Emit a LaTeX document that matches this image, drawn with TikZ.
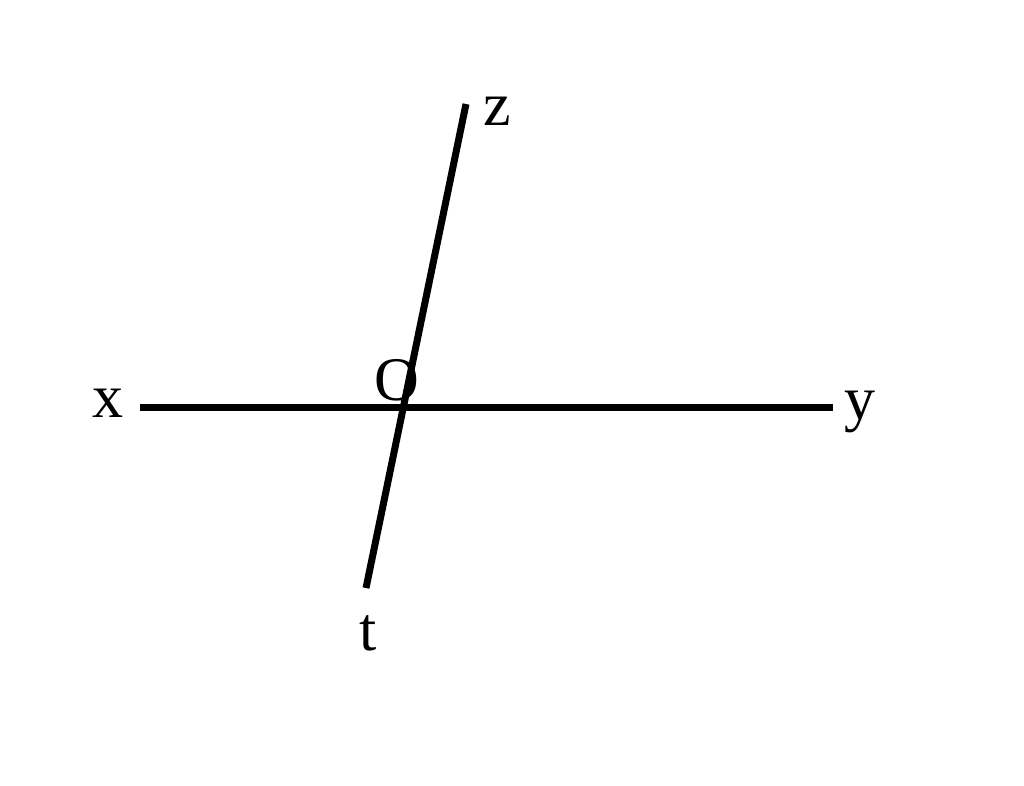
\documentclass[tikz,border=0pt]{standalone}
\usepackage{fontspec}
\setmainfont{Liberation Serif}
\begin{document}
\begin{tikzpicture}[x=1pt,y=-1pt,
  ln/.style={line width=7pt},
  lbl/.style={inner sep=0pt,font=\fontsize{62}{68}\selectfont}]
\useasboundingbox[fill=white] (0,0) rectangle (1024,785);
\coordinate (X) at (140,407);
\coordinate (Y) at (833,407);
\coordinate (Z) at (466,104);
\coordinate (T) at (366,588);
\draw[ln] (X) -- (Y);
\draw[ln] (Z) -- (T);
\node[lbl] (lx) at (108,403) {x};
\node[lbl] (ly) at (860,412) {y};
\node[lbl] (lz) at (497,111) {z};
\node[lbl] (lt) at (368,633) {t};
\node[lbl] (lo) at (397,380) {O};
\end{tikzpicture}
\end{document}
